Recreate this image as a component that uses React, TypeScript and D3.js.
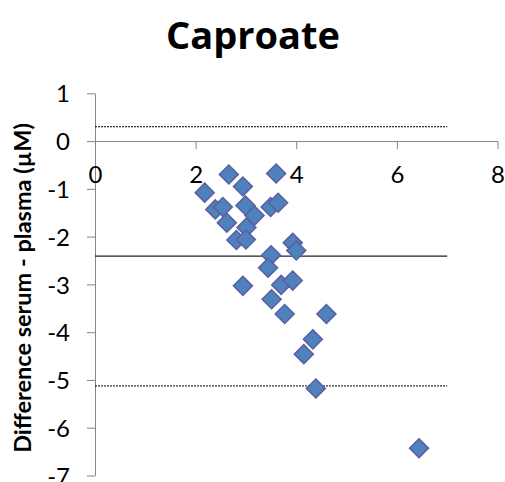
import React, { useRef, useEffect } from 'react';
import * as d3 from 'd3';

// mean concentration (x) vs difference serum - plasma (y)
const meanValues = [2.66, 3.60, 2.18, 2.94, 2.39, 2.54, 2.99, 3.17, 3.49, 3.64, 2.62, 3.01, 2.81, 3.00, 3.93, 4.00, 3.50, 3.44, 2.94, 3.70, 3.93, 3.51, 3.77, 4.60, 4.33, 4.15, 4.39, 6.44];
const diffValues = [-0.70, -0.68, -1.08, -0.95, -1.43, -1.38, -1.35, -1.56, -1.38, -1.29, -1.71, -1.81, -2.07, -2.06, -2.13, -2.29, -2.39, -2.65, -3.03, -3.01, -2.92, -3.31, -3.62, -3.62, -4.15, -4.46, -5.18, -6.43];

// mean difference and limits of agreement
const refLines = [
  { value: 0.30, dashed: true },
  { value: -2.41, dashed: false },
  { value: -5.125, dashed: true },
];
const refLineEnd = 7;

const xTicks = [0, 2, 4, 6, 8];
const yTicks = [1, 0, -1, -2, -3, -4, -5, -6, -7];

const App = () => {
  const svgRef = useRef<SVGSVGElement>(null);

  useEffect(() => {
    const svg = d3.select(svgRef.current);
    svg.selectAll('*').remove();

    const font = 'Lato, "Open Sans", sans-serif';

    const x = d3.scaleLinear().domain([0, 8]).range([95, 497.5]);
    const y = d3.scaleLinear().domain([1, -7]).range([93.3, 475.5]);

    // title
    svg.append('text')
      .attr('x', 253)
      .attr('y', 49)
      .attr('text-anchor', 'middle')
      .attr('font-family', '"Open Sans", sans-serif')
      .attr('font-weight', 'bold')
      .attr('font-size', 38)
      .text('Caproate');

    // y axis title
    svg.append('text')
      .attr('transform', `translate(31,288) rotate(-90)`)
      .attr('text-anchor', 'middle')
      .attr('font-family', font)
      .attr('font-weight', 'bold')
      .attr('font-size', 23.5)
      .text('Difference serum - plasma (µM)');

    const axisColor = '#868686';

    // y axis
    const yAxis = svg.append('g')
      .attr('transform', `translate(${x(0)},0)`)
      .call(d3.axisLeft(y).tickValues(yTicks).tickSize(8).tickSizeOuter(0).tickFormat(d3.format('d')));
    yAxis.select('.domain').attr('stroke', axisColor);
    yAxis.selectAll('.tick line').attr('stroke', axisColor);
    yAxis.selectAll('.tick text')
      .attr('x', -25)
      .attr('dy', '0.36em')
      .attr('font-family', font)
      .attr('font-size', 24)
      .attr('fill', '#000')
      .text((d: any) => (d < 0 ? '-' + Math.abs(d) : String(d)));

    // x axis crossing at y = 0
    const xAxis = svg.append('g')
      .attr('transform', `translate(0,${y(0)})`)
      .call(d3.axisBottom(x).tickValues(xTicks).tickSize(8).tickSizeOuter(0));
    xAxis.select('.domain').attr('stroke', axisColor);
    xAxis.selectAll('.tick line').attr('stroke', axisColor);
    xAxis.selectAll('.tick text')
      .attr('y', 42)
      .attr('dy', 0)
      .attr('font-family', font)
      .attr('font-size', 24)
      .attr('fill', '#000');

    // reference lines
    svg.append('g')
      .selectAll('line')
      .data(refLines)
      .join('line')
      .attr('x1', x(0))
      .attr('x2', x(refLineEnd))
      .attr('y1', d => y(d.value))
      .attr('y2', d => y(d.value))
      .attr('stroke', d => (d.dashed ? '#000' : '#222'))
      .attr('stroke-width', d => (d.dashed ? 1 : 1.3))
      .attr('stroke-dasharray', d => (d.dashed ? '2,1' : null));

    // points
    const points = meanValues.map((m, i) => ({ m, d: diffValues[i] }));
    const diamond = d3.symbol().type(d3.symbolSquare).size(180);
    svg.append('g')
      .selectAll('path')
      .data(points)
      .join('path')
      .attr('d', diamond)
      .attr('transform', p => `translate(${x(p.m)},${y(p.d)}) rotate(45)`)
      .attr('fill', '#4F81BD')
      .attr('stroke', '#5B5EA0')
      .attr('stroke-width', 1.5);
  }, []);

  return (
    <svg ref={svgRef} width="505" height="482" style={{ position: 'absolute', left: 0, top: 0, background: '#fff' }}></svg>
  );
};

export default App;
